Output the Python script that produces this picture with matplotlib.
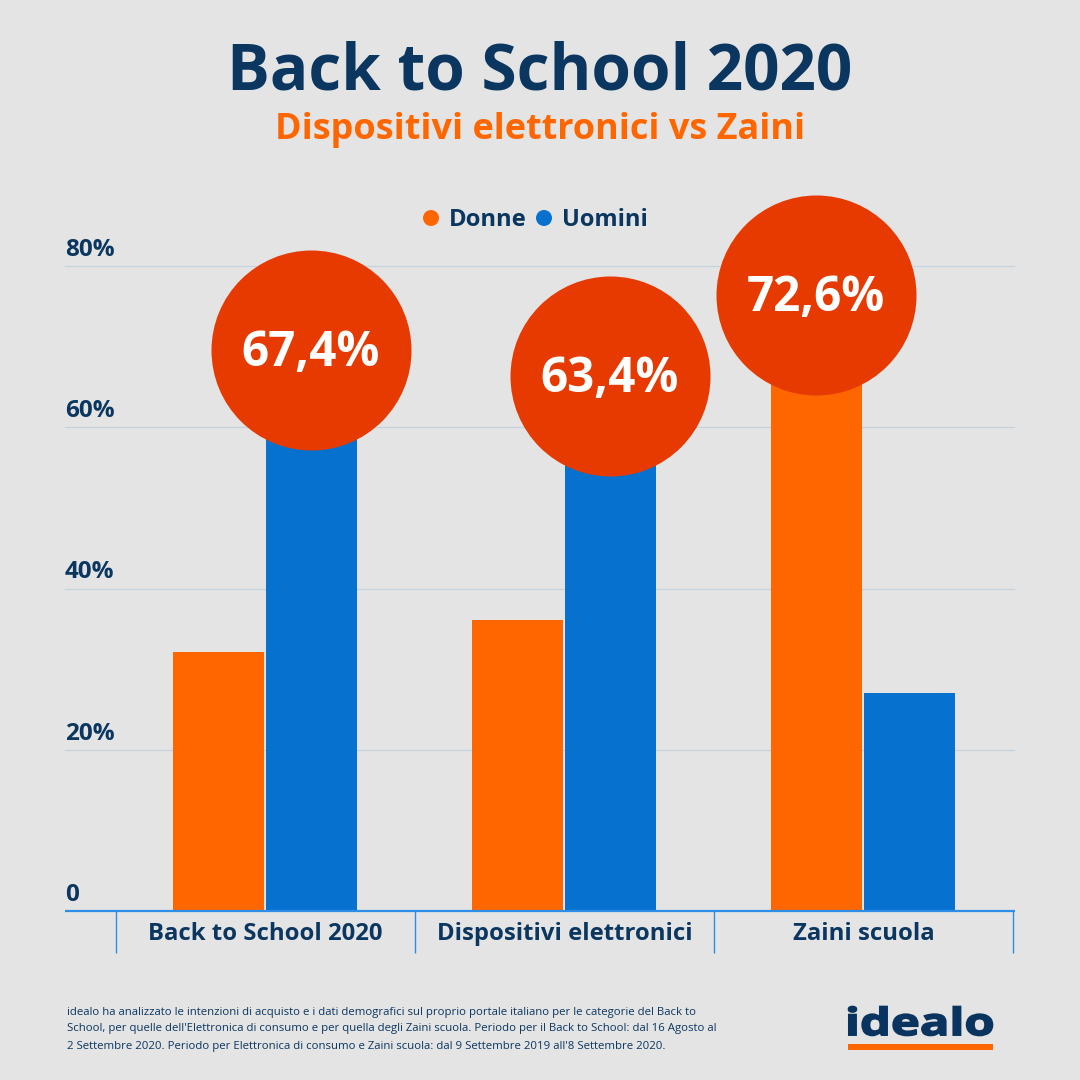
import matplotlib
matplotlib.use("Agg")
import matplotlib.pyplot as plt
from matplotlib.patches import Rectangle, PathPatch
from matplotlib.textpath import TextPath
from matplotlib.font_manager import FontProperties
from matplotlib.transforms import Affine2D

categories = ["Back to School 2020", "Dispositivi elettronici", "Zaini scuola"]
donne = [32.1, 36.1, 72.6]
uomini = [67.4, 63.4, 27.0]
bubble_labels = ["67,4%", "63,4%", "72,6%"]
bubble_series = [1, 1, 0]            # bar the bubble sits on: 0 Donne, 1 Uomini
bubble_levels = [69.6, 66.4, 76.45]  # bubble centre, in % on the y axis
yticks = [0, 20, 40, 60, 80]
yticklabels = ["0", "20%", "40%", "60%", "80%"]

BG = "#E4E4E4"; NAVY = "#0A3660"; ORANGE = "#FF6600"; BLUE = "#0771D0"
RED = "#E63A00"; AXIS = "#2E8DE6"; GRID = "#C5D3DF"
plt.rcParams["font.family"] = ["Open Sans", "DejaVu Sans"]

W = H = 1080
fig = plt.figure(figsize=(W / 100, H / 100), dpi=100, facecolor=BG)
def fx(x): return x / W
def fy(y): return 1 - y / H

L, R, T, B = 116, 1013.5, 266, 911
ax = fig.add_axes([fx(L), fy(B), fx(R - L), (B - T) / H])
ax.set_facecolor("none")
ax.set_xlim(0, 3); ax.set_ylim(0, 80)
for s in ax.spines.values():
    s.set_visible(False)
ax.set_xticks([]); ax.set_yticks([])

cat_w = (R - L) / 3
bw = 91 / cat_w
off = 46.5 / cat_w
xs = [i + 0.5 - 1 / cat_w for i in range(3)]
ax.bar([x - off for x in xs], donne, width=bw, color=ORANGE, zorder=3, clip_on=False)
ax.bar([x + off for x in xs], uomini, width=bw, color=BLUE, zorder=3, clip_on=False)

# y grid and labels: grid runs out to the label column
for v, lab in zip(yticks, yticklabels):
    ytr = ax.get_yaxis_transform()
    if v != 0:
        ax.plot([(65 - L) / (R - L), 1], [v, v], transform=ytr, color=GRID, lw=0.9,
                zorder=1, clip_on=False)
    ax.annotate(lab, xy=(0, v), xycoords=ytr, xytext=(65 - L, 4),
                textcoords="offset pixels", fontsize=17.5, fontweight="bold",
                color=NAVY, ha="left", va="bottom", annotation_clip=False)

# baseline and category separators
ytr = ax.get_xaxis_transform()
ax.plot([(65 - L) / cat_w, 3 + 1.5 / cat_w], [0, 0], transform=ytr, color=AXIS, lw=1.6,
        zorder=4, clip_on=False, solid_capstyle="butt")
for i in range(4):
    ax.plot([i, i], [0, -42 / (B - T)], transform=ytr, color=AXIS, lw=1.0,
            zorder=4, clip_on=False, solid_capstyle="butt")
for i, c in enumerate(categories):
    ax.annotate(c, xy=(i + 0.5, 0), xycoords=ytr, xytext=(0, -23), textcoords="offset pixels",
                fontsize=17.2, fontweight="bold", color=NAVY, ha="center", va="center",
                annotation_clip=False)

# bubbles
bx = [x + (off if s else -off) for x, s in zip(xs, bubble_series)]
ax.scatter(bx, bubble_levels, s=(200 * 0.72) ** 2, color=RED, linewidths=0, zorder=5, clip_on=False)
for x, y, t in zip(bx, bubble_levels, bubble_labels):
    ax.annotate(t, xy=(x, y), xytext=(-1, -4), textcoords="offset pixels", color="white",
                fontsize=34.3, fontweight="bold", ha="center", va="center",
                zorder=6, annotation_clip=False)

# titles
fig.text(fx(540), fy(73), "Back to School 2020", fontsize=46, fontweight="bold",
         color=NAVY, ha="center", va="center")
fig.text(fx(540), fy(130), "Dispositivi elettronici vs Zaini", fontsize=25.9, fontweight="bold",
         color=ORANGE, ha="center", va="center")

# legend
ov = fig.add_axes([0, 0, 1, 1], facecolor="none")
ov.set_xlim(0, W); ov.set_ylim(H, 0); ov.axis("off")
ov.scatter([431, 544], [218, 218], s=(16 * 0.72) ** 2, c=[ORANGE, BLUE], linewidths=0)
ov.text(449, 220, "Donne", fontsize=17.1, fontweight="bold", color=NAVY, ha="left", va="center")
ov.text(562, 220, "Uomini", fontsize=17.0, fontweight="bold", color=NAVY, ha="left", va="center")

# footnote
notes = ["idealo ha analizzato le intenzioni di acquisto e i dati demografici sul proprio portale italiano per le categorie del Back to",
         "School, per quelle dell'Elettronica di consumo e per quella degli Zaini scuola. Periodo per il Back to School: dal 16 Agosto al",
         "2 Settembre 2020. Periodo per Elettronica di consumo e Zaini scuola: dal 9 Settembre 2019 all'8 Settembre 2020."]
for y, n in zip([1012, 1029, 1046], notes):
    ov.text(67, y, n, fontsize=8.2, color=NAVY, ha="left", va="center")

# logo
tp = TextPath((0, 0), "idealo", size=40, prop=FontProperties(family="Open Sans", weight="bold"))
bb = tp.get_extents()
tf = (Affine2D().translate(-bb.x0, -bb.y0)
      .scale(144 / bb.width, -29 / bb.height).translate(848.5, 1035.5))
ov.add_patch(PathPatch(tp, transform=tf + ov.transData, fc="#0A3460", ec="#0A3460", lw=1.2))
ov.add_patch(Rectangle((848, 1044), 145, 6, fc=ORANGE, ec="none"))

fig.savefig("out.png", dpi=100, facecolor=BG)
